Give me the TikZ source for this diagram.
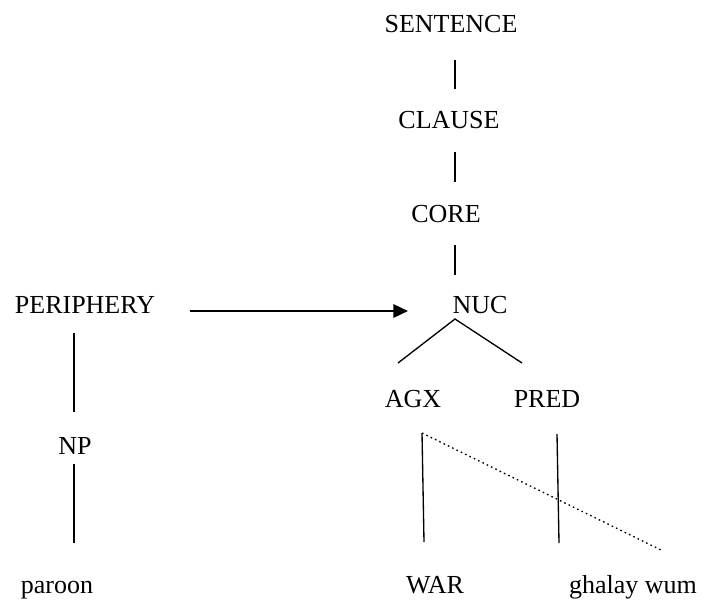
\documentclass[tikz,border=0pt]{standalone}
\usepackage{fontspec}
\setmainfont{Liberation Serif}
\usetikzlibrary{arrows.meta}

\tikzset{
  lbl/.style={anchor=base,inner sep=0pt,font=\fontsize{19.5}{23}\selectfont},
  branch/.style={line width=1pt},
  link/.style={line width=1pt,dash pattern=on 1.2pt off 2.4pt},
  pointer/.style={line width=1.8pt,-{Triangle[length=11pt,width=10pt]}}
}

\begin{document}
\begin{tikzpicture}[x=0.75pt,y=0.75pt,yscale=-1,xscale=1]
        \useasboundingbox (0,0) rectangle (705,599);

        % labels
        \node[lbl] (sentence) at (451,33) {SENTENCE};
        \node[lbl] (clause) at (449,128) {CLAUSE};
        \node[lbl] (core) at (446,222) {CORE};
        \node[lbl] (nuc) at (480,313) {NUC};
        \node[lbl] (periphery) at (85,313) {PERIPHERY};
        \node[lbl] (agx) at (413,407) {AGX};
        \node[lbl] (pred) at (547,407) {PRED};
        \node[lbl] (np) at (75,454) {NP};
        \node[lbl] (paroon) at (57,593) {paroon};
        \node[lbl] (war) at (435,593) {WAR};
        \node[lbl] (ghalay) at (633,593) {ghalay wum};

        % line ends
        \coordinate (sa) at (455,60);   \coordinate (sb) at (455,89);
        \coordinate (ca) at (455,152);  \coordinate (cb) at (455,182);
        \coordinate (ra) at (455,245);  \coordinate (rb) at (455,275);
        \coordinate (na) at (455,319);
        \coordinate (nl) at (398,363);  \coordinate (nr) at (522,363);
        \coordinate (pa) at (74,333);   \coordinate (pb) at (74,412);
        \coordinate (qa) at (74,464);   \coordinate (qb) at (74,543);
        \coordinate (aa) at (422,433);  \coordinate (ab) at (424,542);
        \coordinate (da) at (557,434);  \coordinate (db) at (559,543);
        \coordinate (dotend) at (663,551);
        \coordinate (arrowstart) at (190,311); \coordinate (arrowtip) at (408,311);

        \draw[branch] (sa) -- (sb);
        \draw[branch] (ca) -- (cb);
        \draw[branch] (ra) -- (rb);
        \draw[branch] (nl) -- (na) -- (nr);
        \draw[branch] (pa) -- (pb);
        \draw[branch] (qa) -- (qb);
        \draw[branch] (aa) -- (ab);
        \draw[branch] (da) -- (db);
        \draw[link] (aa) -- (dotend);
        \draw[pointer] (arrowstart) -- (arrowtip);
    \end{tikzpicture}
\end{document}
